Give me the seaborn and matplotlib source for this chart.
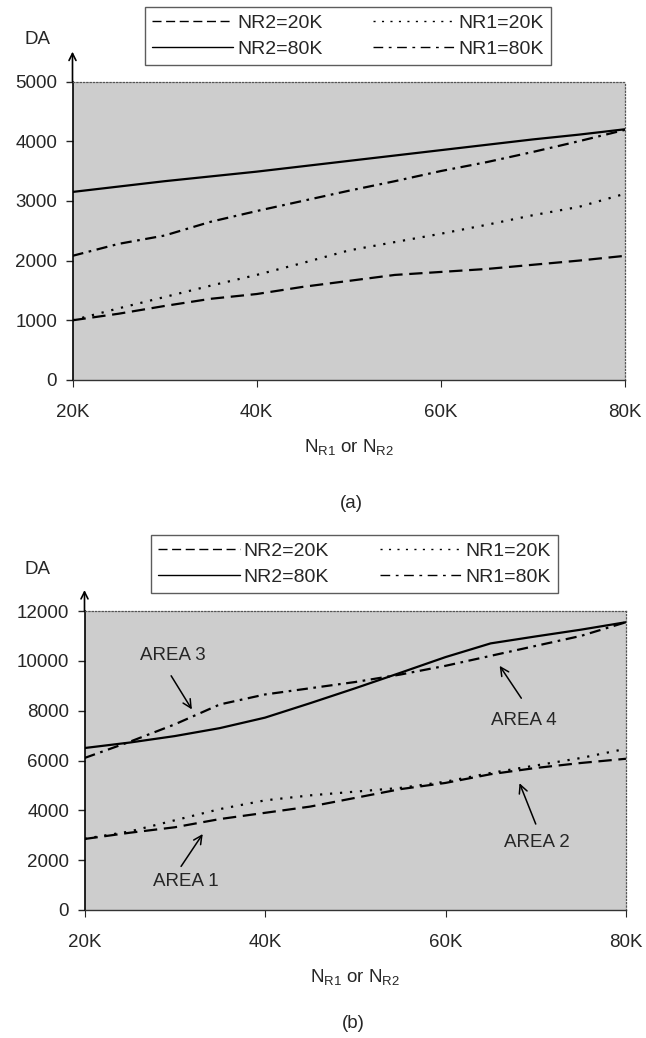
import matplotlib
matplotlib.use('Agg')
import matplotlib.pyplot as plt
import seaborn as sns
import pandas as pd
from matplotlib.lines import Line2D

# --- data (x in thousands) ---
N_K = [20, 25, 30, 35, 40, 45, 50, 55, 60, 65, 70, 75, 80]

# panel (a)
A_NR2_20K = [1000, 1110, 1240, 1360, 1440, 1560, 1660, 1760, 1810, 1860, 1930, 2000, 2080]
A_NR1_20K = [1000, 1200, 1390, 1580, 1760, 1960, 2170, 2310, 2450, 2600, 2760, 2900, 3120]
A_NR2_80K = [3150, 3240, 3330, 3410, 3490, 3580, 3670, 3760, 3850, 3940, 4030, 4110, 4200]
A_NR1_80K = [2080, 2280, 2420, 2650, 2830, 3000, 3170, 3330, 3500, 3650, 3820, 4000, 4190]

# panel (b)
B_NR2_20K = [2850, 3100, 3320, 3650, 3900, 4150, 4500, 4850, 5100, 5450, 5700, 5900, 6070]
B_NR1_20K = [2860, 3150, 3600, 4050, 4400, 4600, 4750, 4900, 5150, 5500, 5800, 6100, 6470]
B_NR2_80K = [6500, 6720, 6980, 7300, 7720, 8300, 8900, 9520, 10150, 10700, 10980, 11250, 11550]
B_NR1_80K = [6100, 6750, 7450, 8250, 8650, 8900, 9150, 9450, 9800, 10200, 10600, 11000, 11550]

SERIES = ['NR2=20K', 'NR1=20K', 'NR2=80K', 'NR1=80K']
X_TICKS = [20, 40, 60, 80]
X_TICK_LABELS = ['20K', '40K', '60K', '80K']

# annotations for panel (b): label, text pos, arrow tail, arrow tip
AREA_LABELS = ['AREA 1', 'AREA 2', 'AREA 3', 'AREA 4']
AREA_TEXT = [(31.2, 1145), (70.1, 2720), (29.8, 10200), (68.7, 7620)]
AREA_TAIL = [(30.7, 1750), (70.0, 3450), (29.6, 9400), (68.4, 8500)]
AREA_TIP = [(33.1, 3050), (68.2, 5090), (31.9, 8050), (66.0, 9800)]

# --- styling ---
sns.set_style('white')
plt.rcParams['font.family'] = ['Liberation Sans', 'DejaVu Sans']
plt.rcParams['mathtext.fontset'] = 'custom'
plt.rcParams['mathtext.rm'] = 'Liberation Sans'
FS = 13.5
LEG_FS = 14
BG = '#cdcdcd'

PLOT_DASHES = {'NR2=20K': (6, 3), 'NR1=20K': (1, 3.5), 'NR2=80K': '', 'NR1=80K': (5, 2.5, 1.2, 2.5)}
LEG_DASHES = {'NR2=20K': (6.5, 3.3), 'NR1=20K': (1.5, 4.6), 'NR2=80K': None, 'NR1=80K': (7, 4, 2, 4)}


def long_df(cols):
    rows = []
    for name, vals in zip(SERIES, cols):
        for x, y in zip(N_K, vals):
            rows.append({'N': x, 'DA': y, 'series': name})
    return pd.DataFrame(rows)


def draw_panel(fig, rect, df, ymax, ystep, arrow_len, leg_center, da_pos, cap_pos, cap_text):
    ax = fig.add_axes(rect)
    ax.set_facecolor(BG)
    sns.lineplot(data=df, x='N', y='DA', style='series', style_order=SERIES,
                 dashes=PLOT_DASHES, color='black', linewidth=1.6, legend=False, ax=ax)
    ax.set_xlim(20, 80)
    ax.set_ylim(0, ymax)
    ax.set_xticks(X_TICKS)
    ax.set_xticklabels(X_TICK_LABELS)
    ax.set_yticks(list(range(0, ymax + 1, ystep)))
    ax.tick_params(axis='y', direction='out', length=5, width=1, pad=6, labelsize=FS, left=True)
    ax.tick_params(axis='x', direction='out', length=5, width=0.8, pad=12, labelsize=FS, bottom=True)
    ax.set_xlabel(r'N$_{\mathrm{R1}}$ or N$_{\mathrm{R2}}$', fontsize=FS, labelpad=12)
    ax.set_ylabel('')
    for s in ['top', 'right']:
        ax.spines[s].set_linestyle(':')
        ax.spines[s].set_linewidth(0.9)
        ax.spines[s].set_color('#555555')
    ax.spines['left'].set_color('black')
    ax.spines['left'].set_linewidth(1.2)
    ax.spines['bottom'].set_color('#333333')
    ax.spines['bottom'].set_linewidth(1.0)
    ax.annotate('', xy=(0, 1 + arrow_len), xytext=(0, 1), xycoords='axes fraction',
                arrowprops=dict(arrowstyle='->,head_length=0.5,head_width=0.25', lw=1.2, color='black',
                                shrinkA=0, shrinkB=0), annotation_clip=False)

    handles = []
    for name in SERIES:
        d = LEG_DASHES[name]
        if d is None:
            h = Line2D([], [], color='black', lw=1.0, linestyle='-')
        else:
            h = Line2D([], [], color='black', lw=1.0, dashes=d)
        handles.append(h)
    order = [0, 2, 1, 3]
    leg = fig.legend([handles[i] for i in order], [SERIES[i] for i in order],
                     loc='center', bbox_to_anchor=leg_center, ncol=2, fontsize=LEG_FS,
                     handlelength=4.2, handletextpad=0.2, columnspacing=2.6,
                     labelspacing=0.45, borderpad=0.35, fancybox=False, frameon=True)
    leg.get_frame().set_edgecolor('#333333')
    leg.get_frame().set_linewidth(1.0)

    fig.text(da_pos[0], da_pos[1], 'DA', fontsize=FS, ha='center', va='center')
    fig.text(cap_pos[0], cap_pos[1], cap_text, fontsize=FS, ha='center', va='center')
    return ax


W, H = 646, 1038
fig = plt.figure(figsize=(W / 100, H / 100), dpi=100)

df_a = long_df([A_NR2_20K, A_NR1_20K, A_NR2_80K, A_NR1_80K])
df_b = long_df([B_NR2_20K, B_NR1_20K, B_NR2_80K, B_NR1_80K])

ax_a = draw_panel(fig, [72.5 / W, 1 - 380 / H, (625 - 72.5) / W, (380 - 81.5) / H],
                  df_a, 5000, 1000, 0.10, (348 / W, 1 - 36 / H), (38 / W, 1 - 39 / H),
                  (351 / W, 1 - 503 / H), '(a)')
ax_b = draw_panel(fig, [84.5 / W, 1 - 910 / H, (626 - 84.5) / W, (910 - 611) / H],
                  df_b, 12000, 2000, 0.07, (354.5 / W, 1 - 564 / H), (38 / W, 1 - 569 / H),
                  (353 / W, 1 - 1023 / H), '(b)')

for lab, tp, tail, tip in zip(AREA_LABELS, AREA_TEXT, AREA_TAIL, AREA_TIP):
    ax_b.text(tp[0], tp[1], lab, fontsize=FS, ha='center', va='center')
    ax_b.annotate('', xy=tip, xytext=tail,
                  arrowprops=dict(arrowstyle='->,head_length=0.6,head_width=0.3', lw=1.1,
                                  color='black', shrinkA=0, shrinkB=0))

fig.savefig('out.png', dpi=100)
